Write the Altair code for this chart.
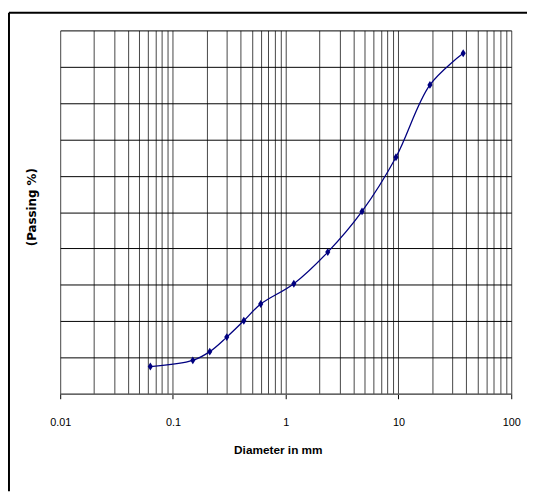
import altair as alt
import pandas as pd

# Sieve analysis data
diameter = [0.063, 0.15, 0.212, 0.3, 0.425, 0.6, 1.18, 2.36, 4.75, 9.5, 19, 37.5]
passing = [7.5, 9.2, 11.6, 15.6, 20.1, 24.7, 30.3, 39.0, 50.2, 65.1, 85.0, 93.7]

x_grid = [round(m * d, 6) for d in [0.01, 0.1, 1, 10] for m in range(1, 10)] + [100]
y_grid = list(range(0, 101, 10))

df = pd.DataFrame({"Diameter": diameter, "Passing": passing})

DECADE = "abs(log(datum.value)/LN10 - round(log(datum.value)/LN10)) < 1e-6"
FONT = "Liberation Sans, Arial, sans-serif"

x_enc = alt.X(
    "Diameter:Q",
    scale=alt.Scale(type="log", domain=[0.01, 100], nice=False),
    axis=alt.Axis(
        values=x_grid,
        format="~g",
        labelExpr=f"({DECADE}) ? datum.label : ''",
        labelFont=FONT,
        labelFontSize=11,
        labelColor="#000",
        labelPadding=18,
        labelFlush=False,
        labelOverlap=False,
        tickSize=5,
        tickColor="#000",
        tickOpacity={"condition": {"test": DECADE, "value": 1}, "value": 0},
        grid=True,
        gridColor="#444",
        gridWidth=1,
        gridOpacity=1,
        domainColor="#666",
        domainWidth=1.5,
        title="Diameter in mm",
        titleFont=FONT,
        titleFontSize=12,
        titleFontWeight="bold",
        titleColor="#000",
        titleX=221,
        titleY=57,
        titleBaseline="middle",
    ),
)

y_enc = alt.Y(
    "Passing:Q",
    scale=alt.Scale(domain=[0, 100], nice=False),
    axis=alt.Axis(
        values=y_grid,
        tickCount=11,
        labels=False,
        ticks=False,
        domain=False,
        grid=True,
        gridColor="#000",
        gridWidth=1,
        gridOpacity=1,
        title="(Passing %)",
        titleFont="DejaVu Sans",
        titleFontSize=12,
        titleFontWeight="bold",
        titleColor="#000",
        titlePadding=22,
        titleY=179,
    ),
)

line = alt.Chart(df).mark_line(
    color="#000080", strokeWidth=1.3, interpolate="catmull-rom"
).encode(x=x_enc, y=y_enc)

pts = alt.Chart(df).mark_point(
    shape="M0,-1L0.65,0L0,1L-0.65,0Z", size=64, filled=True, color="#000080", opacity=1
).encode(x=x_enc, y=y_enc)

frame_df = pd.DataFrame({"k": [0]})
top_rule = alt.Chart(frame_df).mark_rule(color="#000", strokeWidth=2).encode(
    x=alt.value(-52), x2=alt.value(474), y=alt.value(-18)
)
left_rule = alt.Chart(frame_df).mark_rule(color="#000", strokeWidth=2).encode(
    x=alt.value(-52), y=alt.value(-18), y2=alt.value(468)
)

chart = (
    alt.layer(line, pts, top_rule, left_rule)
    .properties(
        width=458,
        height=369,
        autosize=alt.AutoSizeParams(type="none"),
        padding={"left": 53, "top": 19, "right": 16, "bottom": 99},
        background="#ffffff",
    )
    .configure_view(stroke=None)
)

chart.save("out.html", embed_options={"renderer": "svg", "actions": False})
